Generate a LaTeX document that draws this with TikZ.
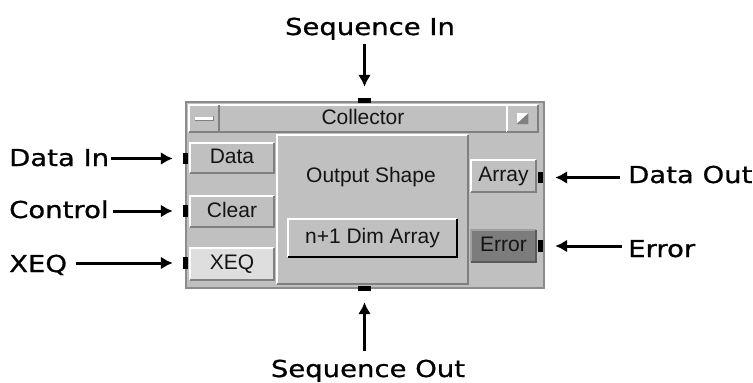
\documentclass[tikz,border=0pt]{standalone}
\usepackage{fontspec}
\setmainfont{Liberation Sans}
\newfontfamily\labelfont{DejaVu Sans}[FakeStretch=1.18,FakeBold=0.8]
\usepackage{tikz}
\usetikzlibrary{arrows.meta}
\usepackage{xcolor}
\definecolor{wingray}{RGB}{192,192,192}
\definecolor{edgegray}{RGB}{140,140,140}
\definecolor{shadegray}{RGB}{128,128,128}
\definecolor{xeqgray}{RGB}{222,222,222}
\definecolor{errgray}{RGB}{124,124,124}
\definecolor{errlight}{RGB}{160,160,160}
\definecolor{inktext}{RGB}{20,20,20}
\tikzstyle{panel}=[draw=none, fill=wingray, inner sep=0pt]
\tikzstyle{btn}=[panel, text=inktext, font=\fontsize{21}{24}\selectfont, text height=15pt, text depth=4pt]
\tikzstyle{port}=[fill=black, inner sep=0pt]
\tikzstyle{lbl}=[font=\labelfont\fontsize{23.3}{26}\selectfont, inner sep=2pt]
\tikzstyle{sig}=[->, line width=3pt]

% light edge on top/left, dark edge on bottom/right
\newcommand{\bevel}[3]{%
  \draw[#2] (#1.south west) -- (#1.north west) -- (#1.north east);
  \draw[#3] (#1.south west) -- (#1.south east) -- (#1.north east);}

\begin{document}
\begin{tikzpicture}[x=1pt,y=-1pt,>={Latex[length=12pt,width=13pt]}]
        \useasboundingbox (0,0) rectangle (753,383);

        % window and title bar
        \node [panel,draw=edgegray,line width=1.5pt,minimum width=358pt,minimum height=186pt] (win) at (365,195) {};
        \node [btn,minimum width=288pt,minimum height=27pt] (title) at (363,118.5) {Collector};
        \node [panel,minimum width=30pt,minimum height=27pt] (minbtn) at (204,118.5) {};
        \node [panel,minimum width=31pt,minimum height=27pt] (maxbtn) at (522.5,118.5) {};
        \bevel{title}{white,line width=1.5pt}{shadegray,line width=1.5pt}
        \bevel{minbtn}{white,line width=1.5pt}{shadegray,line width=1.5pt}
        \bevel{maxbtn}{white,line width=1.5pt}{shadegray,line width=1.5pt}
        \node [fill=white,inner sep=0pt,minimum width=18pt,minimum height=4pt] (minicon) at (minbtn) {};
        \draw [shadegray,line width=1pt] (minicon.south west) -- (minicon.south east) -- (minicon.north east);
        \node [fill=white,inner sep=0pt,minimum width=12pt,minimum height=11pt] (maxicon) at (maxbtn) {};
        \fill [shadegray] (maxicon.south west) -- (maxicon.south east) -- (maxicon.north east) -- cycle;

        % input buttons
        \node [btn,minimum width=84pt,minimum height=30pt] (databtn) at (232,158) {Data};
        \node [btn,minimum width=84pt,minimum height=31pt] (clearbtn) at (232,211.5) {Clear};
        \node [btn,fill=xeqgray,minimum width=84pt,minimum height=32pt] (xeqbtn) at (232,264) {XEQ};
        \bevel{databtn}{white,line width=1.5pt}{shadegray,line width=1.5pt}
        \bevel{clearbtn}{white,line width=1.5pt}{shadegray,line width=1.5pt}
        \bevel{xeqbtn}{white,line width=1.5pt}{shadegray,line width=1.5pt}

        % shape panel
        \node [panel,minimum width=191pt,minimum height=149pt] (shapepanel) at (372.5,209.5) {};
        \bevel{shapepanel}{white,line width=1.5pt}{shadegray,line width=1.5pt}
        \node [btn,fill=none,anchor=base,text height=,text depth=] (shapelbl) at (371,182) {Output Shape};
        \node [btn,minimum width=169pt,minimum height=38pt] (dimbtn) at (372.5,238) {n+1 Dim Array};
        \bevel{dimbtn}{white,line width=1.5pt}{black,line width=2pt}

        % output buttons
        \node [btn,minimum width=65pt,minimum height=32pt] (arraybtn) at (503.5,176) {Array};
        \node [btn,fill=errgray,minimum width=65pt,minimum height=32pt] (errbtn) at (503.5,246) {Error};
        \bevel{arraybtn}{white,line width=1.5pt}{shadegray,line width=1.5pt}
        \bevel{errbtn}{errlight,line width=1.5pt}{shadegray!70!black,line width=1.5pt}

        % ports
        \node [port,minimum width=13pt,minimum height=5pt] (seqinport) at (364.5,100.5) {};
        \node [port,minimum width=13pt,minimum height=5pt] (seqoutport) at (364.5,288.5) {};
        \node [port,minimum width=5pt,minimum height=11pt] (datainport) at (185.5,158.5) {};
        \node [port,minimum width=5pt,minimum height=12pt] (ctrlport) at (185.5,211) {};
        \node [port,minimum width=5pt,minimum height=12pt] (xeqport) at (185.5,263) {};
        \node [port,minimum width=5pt,minimum height=11pt] (dataoutport) at (540.5,177.5) {};
        \node [port,minimum width=5pt,minimum height=12pt] (errport) at (540.5,246) {};

        % labels
        \node [lbl,anchor=base] (seqinlbl) at (370,35) {Sequence In};
        \node [lbl,anchor=base] (seqoutlbl) at (368,377) {Sequence Out};
        \node [lbl,anchor=base west] (datainlbl) at (7,166) {Data In};
        \node [lbl,anchor=base west] (ctrllbl) at (7,218) {Control};
        \node [lbl,anchor=base west] (xeqlbl) at (7,272) {XEQ};
        \node [lbl,anchor=base west] (dataoutlbl) at (626,183) {Data Out};
        \node [lbl,anchor=base west] (errlbl) at (626,257) {Error};

        % signals
        \draw [sig,shorten <=2pt,shorten >=11pt] (seqinlbl.south -| seqinport) -- (seqinport.north);
        \draw [sig,shorten <=7pt,shorten >=11pt] (seqoutlbl.north -| seqoutport) -- (seqoutport.south);
        \draw [sig,shorten >=10pt] (datainlbl.east |- datainport) -- (datainport.west);
        \draw [sig,shorten <=2pt,shorten >=10pt] (ctrllbl.east |- ctrlport) -- (ctrlport.west);
        \draw [sig,shorten <=7pt,shorten >=10pt] (xeqlbl.east |- xeqport) -- (xeqport.west);
        \draw [sig,shorten <=6pt,shorten >=12pt] (dataoutlbl.west |- dataoutport) -- (dataoutport.east);
        \draw [sig,shorten <=4pt,shorten >=12pt] (errlbl.west |- errport) -- (errport.east);
\end{tikzpicture}
\end{document}
